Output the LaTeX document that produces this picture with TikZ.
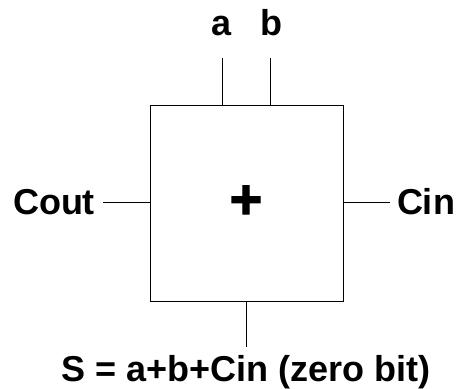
\documentclass[tikz,border=0pt]{standalone}
\usepackage{fontspec}
\setmainfont{Liberation Sans}
\newfontfamily\plusfont[FakeBold=2]{Liberation Sans Bold}
\tikzset{lbl/.style={font=\fontsize{36}{40}\selectfont\bfseries,inner sep=0pt,anchor=base},wire/.style={draw=black,line width=0.75pt}}
\begin{document}
\begin{tikzpicture}[x=1pt,y=-1pt]
\useasboundingbox (0,0) rectangle (459,389);
\node[draw=black,line width=0.75pt,minimum width=193pt,minimum height=196pt,inner sep=0pt,anchor=north west] (box) at (150,105) {};
\node[font=\plusfont\fontsize{56}{58}\selectfont,inner sep=0pt] (plus) at (246,202) {+};
\coordinate (ta) at (222,58);
\coordinate (tb) at (270,58);
\coordinate (ba) at (222,105);
\coordinate (bb) at (270,105);
\draw[wire] (ta) -- (ba);
\draw[wire] (tb) -- (bb);
\node[lbl] (a) at (222,35) {a};
\node[lbl] (b) at (271,35) {b};
\node[lbl] (cout) at (54,214) {Cout};
\node[lbl] (cin) at (426,214) {Cin};
\node[lbl] (s) at (246,381) {S = a+b+Cin (zero bit)};
\coordinate (l) at (103,202);
\coordinate (r) at (390,202);
\coordinate (d) at (246,347);
\draw[wire] (l) -- (box.west |- l);
\draw[wire] (box.east |- r) -- (r);
\draw[wire] (box.south -| d) -- (d);
\end{tikzpicture}
\end{document}
